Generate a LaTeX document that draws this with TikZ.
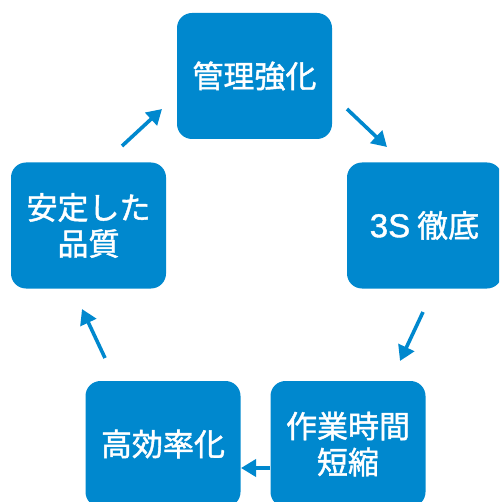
\documentclass[tikz,border=0pt]{standalone}
\usepackage{fontspec}
\setmainfont{Noto Sans CJK JP}[FakeBold=1.4]
\newfontfamily\latinfont{Liberation Sans}[FakeBold=1.2]
\usetikzlibrary{arrows.meta}
\definecolor{boxblue}{RGB}{0,136,206}
\tikzset{
  stage/.style={draw=none, fill=boxblue, rounded corners=15pt, minimum width=155pt, minimum height=126pt, inner sep=0pt, text=white, align=center, font=\fontsize{31}{36}\selectfont},
  flow/.style={draw=boxblue, line width=3.6pt, -{Triangle[length=15pt,width=17pt]}}
}
\begin{document}
\begin{tikzpicture}[x=1pt,y=-1pt]
\useasboundingbox (0,0) rectangle (499,502);
\clip (0,0) rectangle (499,502);
\node[stage] (kanri) at (254.5,76) {管理強化};
\node[stage] (s3) at (424.5,225.5) {{\latinfont\fontsize{33}{36}\selectfont 3S}\hspace{7pt}徹底};
\node[stage] (sagyo) at (348,444) {作業時間\\短縮};
\node[stage] (koritsu) at (163,444) {高効率化};
\node[stage] (antei) at (88.5,225.5) {安定した\\品質};
\coordinate (a1s) at (122,146); \coordinate (a1e) at (162,109);
\coordinate (a2s) at (347,109); \coordinate (a2e) at (387,147);
\coordinate (a3s) at (423,312); \coordinate (a3e) at (400,361);
\coordinate (a4s) at (270,468); \coordinate (a4e) at (241,468);
\coordinate (a5s) at (105,358); \coordinate (a5e) at (82,309);
\draw[flow] (a1s) -- (a1e);
\draw[flow] (a2s) -- (a2e);
\draw[flow] (a3s) -- (a3e);
\draw[flow] (a4s) -- (a4e);
\draw[flow] (a5s) -- (a5e);
\end{tikzpicture}
\end{document}
